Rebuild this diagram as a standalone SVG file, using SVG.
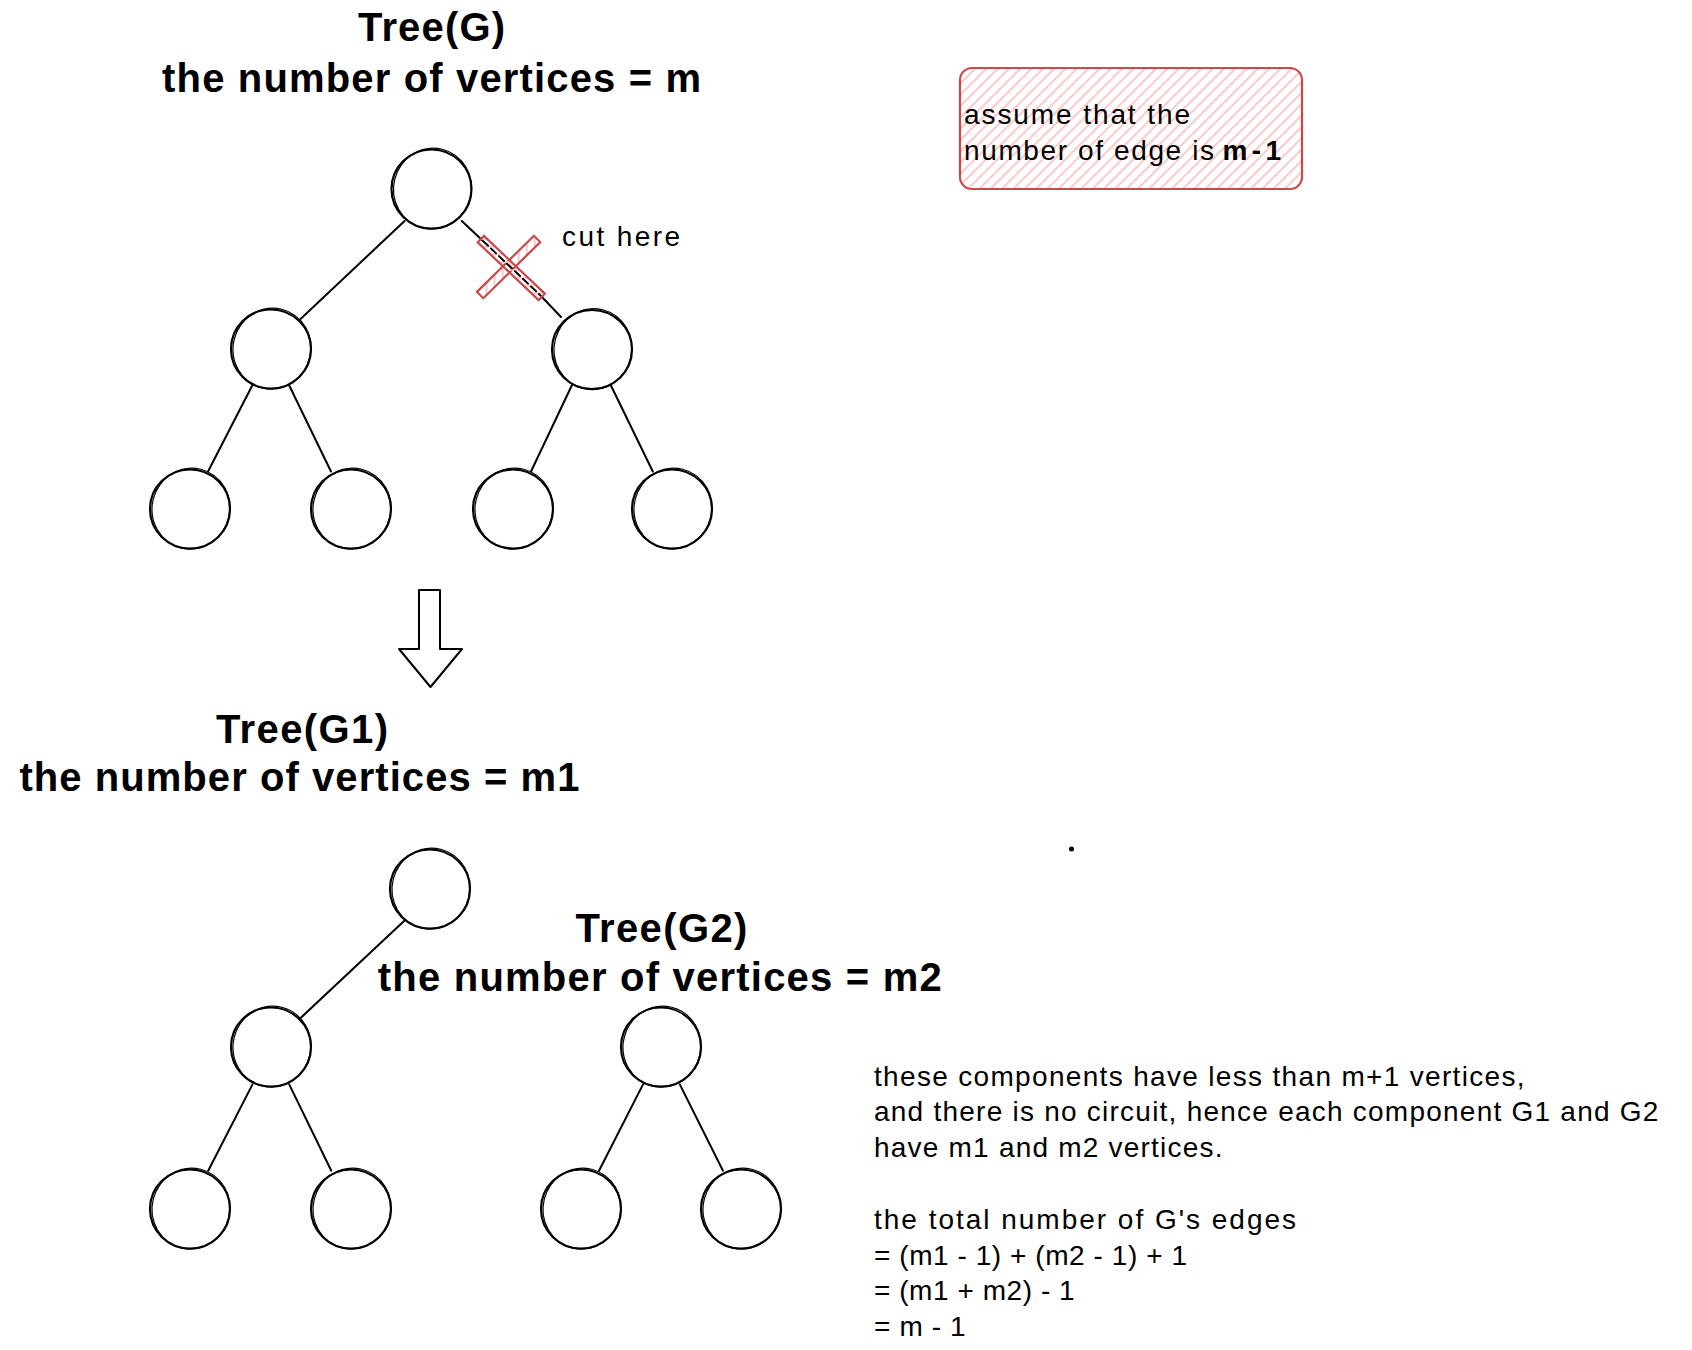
<svg xmlns="http://www.w3.org/2000/svg" xmlns:xlink="http://www.w3.org/1999/xlink" width="1692" height="1350" viewBox="0 0 1692 1350">
<style>
.title{font-family:"Liberation Sans",Arial,sans-serif;font-weight:bold;font-size:40px;fill:#000}
.body{font-family:"Liberation Sans",Arial,sans-serif;font-size:28px;fill:#000}
.bold{font-weight:bold}
.edge{stroke:#000;stroke-width:2;fill:none;stroke-linecap:round}
.ring1{fill:#fff;stroke:#000;stroke-width:2.2}
.ring2{fill:none;stroke:#000;stroke-width:1.2}
.red{stroke:#c94a4a;stroke-width:2.2;fill:url(#hatch)}
</style>
<defs>
<pattern id="hatch" width="8" height="8" patternUnits="userSpaceOnUse" patternTransform="rotate(45)">
<line x1="2" y1="0" x2="2" y2="8" stroke="#ffc9c9" stroke-width="2"/>
</pattern>
<g id="node">
<ellipse class="ring1" cx="0" cy="0" rx="40" ry="39.5"/>
<ellipse class="ring2" cx="0.8" cy="-0.6" rx="38.8" ry="40.6" transform="rotate(14)"/>
</g>
</defs>
<rect width="1692" height="1350" fill="#fff"/>

<g id="connectors">
<line class="edge" x1="404.6" y1="221" x2="300" y2="319.4"/>
<line class="edge" x1="461.8" y1="221" x2="482" y2="240"/>
<line class="edge" x1="541" y1="296" x2="561" y2="317"/>
<line class="edge" x1="252.5" y1="385" x2="208" y2="471.5"/>
<line class="edge" x1="289" y1="385" x2="331" y2="471.5"/>
<line class="edge" x1="572" y1="385" x2="531" y2="471.5"/>
<line class="edge" x1="610.7" y1="385" x2="652.8" y2="471.5"/>
<line class="edge" x1="404.6" y1="920.4" x2="300" y2="1018.6"/>
<line class="edge" x1="252.5" y1="1084.4" x2="208.2" y2="1170.7"/>
<line class="edge" x1="289.2" y1="1084.4" x2="331.3" y2="1170.7"/>
<line class="edge" x1="643" y1="1084.4" x2="599" y2="1170.7"/>
<line class="edge" x1="679.8" y1="1084.4" x2="723" y2="1170.7"/>
</g>

<g id="title-g">
<text class="title" x="431.5" y="41" text-anchor="middle" textLength="147">Tree(G)</text>
<text class="title" x="431.6" y="91.7" text-anchor="middle" textLength="539">the number of vertices = m</text>
</g>

<g id="g-root" transform="translate(431.5,189)"><use href="#node"/></g>
<g id="g-left" transform="translate(271,349)"><use href="#node"/></g>
<g id="g-right" transform="translate(592,349.5)"><use href="#node"/></g>
<g id="g-ll" transform="translate(190,509)"><use href="#node"/></g>
<g id="g-lr" transform="translate(351,509)"><use href="#node"/></g>
<g id="g-rl" transform="translate(513,509)"><use href="#node"/></g>
<g id="g-rr" transform="translate(672,509)"><use href="#node"/></g>

<g id="cut-mark">
<rect class="red" x="-40" y="-4.5" width="80" height="9" transform="translate(508.6,267) rotate(-44.6)"/>
<rect class="red" x="-42" y="-4.5" width="84" height="9" transform="translate(511.3,268) rotate(43.5)"/>
<line class="edge" x1="483" y1="241" x2="540" y2="295" stroke-dasharray="7 4"/>
</g>

<g id="cut-label">
<text class="body" x="562" y="246" textLength="118">cut here</text>
</g>

<g id="assumption">
<rect x="960" y="68" width="342" height="121" rx="12" ry="12" fill="url(#hatch)" stroke="#c94a4a" stroke-width="2.2"/>
<text class="body" x="964" y="124" textLength="226">assume that the</text>
<text class="body" x="964" y="159.5" textLength="250">number of edge is</text>
<text class="body bold" x="1222.5" y="159.5" textLength="58.5">m-1</text>
</g>

<g id="down-arrow">
<path d="M419,590 L440,590 L440,649 L462,649 L430.5,687 L399,649 L419,649 Z" fill="#fff" stroke="#000" stroke-width="2" stroke-linejoin="round"/>
</g>

<g id="title-g1">
<text class="title" x="302" y="742.5" text-anchor="middle" textLength="172">Tree(G1)</text>
<text class="title" x="299.4" y="791" text-anchor="middle" textLength="560">the number of vertices = m1</text>
</g>

<g id="g1-root" transform="translate(430,889)"><use href="#node"/></g>
<g id="g1-mid" transform="translate(271,1047)"><use href="#node"/></g>
<g id="g1-ll" transform="translate(190,1209)"><use href="#node"/></g>
<g id="g1-lr" transform="translate(351,1209)"><use href="#node"/></g>

<g id="title-g2">
<text class="title" x="661.4" y="942" text-anchor="middle" textLength="172">Tree(G2)</text>
<text class="title" x="659.8" y="990.5" text-anchor="middle" textLength="564">the number of vertices = m2</text>
</g>

<g id="g2-root" transform="translate(661,1047)"><use href="#node"/></g>
<g id="g2-l" transform="translate(581,1209)"><use href="#node"/></g>
<g id="g2-r" transform="translate(741,1209)"><use href="#node"/></g>

<g id="dot"><circle cx="1071.5" cy="849" r="2.5" fill="#000"/></g>

<g id="explanation">
<text class="body" x="874" y="1085.5" textLength="650.6">these components have less than m+1 vertices,</text>
<text class="body" x="874" y="1121" textLength="784.4">and there is no circuit, hence each component G1 and G2</text>
<text class="body" x="874" y="1156.7" textLength="348.5">have m1 and m2 vertices.</text>
<text class="body" x="874" y="1229" textLength="422">the total number of G's edges</text>
<text class="body" x="874" y="1264.6" textLength="313">= (m1 - 1) + (m2 - 1) + 1</text>
<text class="body" x="874" y="1300" textLength="200.7">= (m1 + m2) - 1</text>
<text class="body" x="874" y="1335.8" textLength="91.7">= m - 1</text>
</g>
</svg>
